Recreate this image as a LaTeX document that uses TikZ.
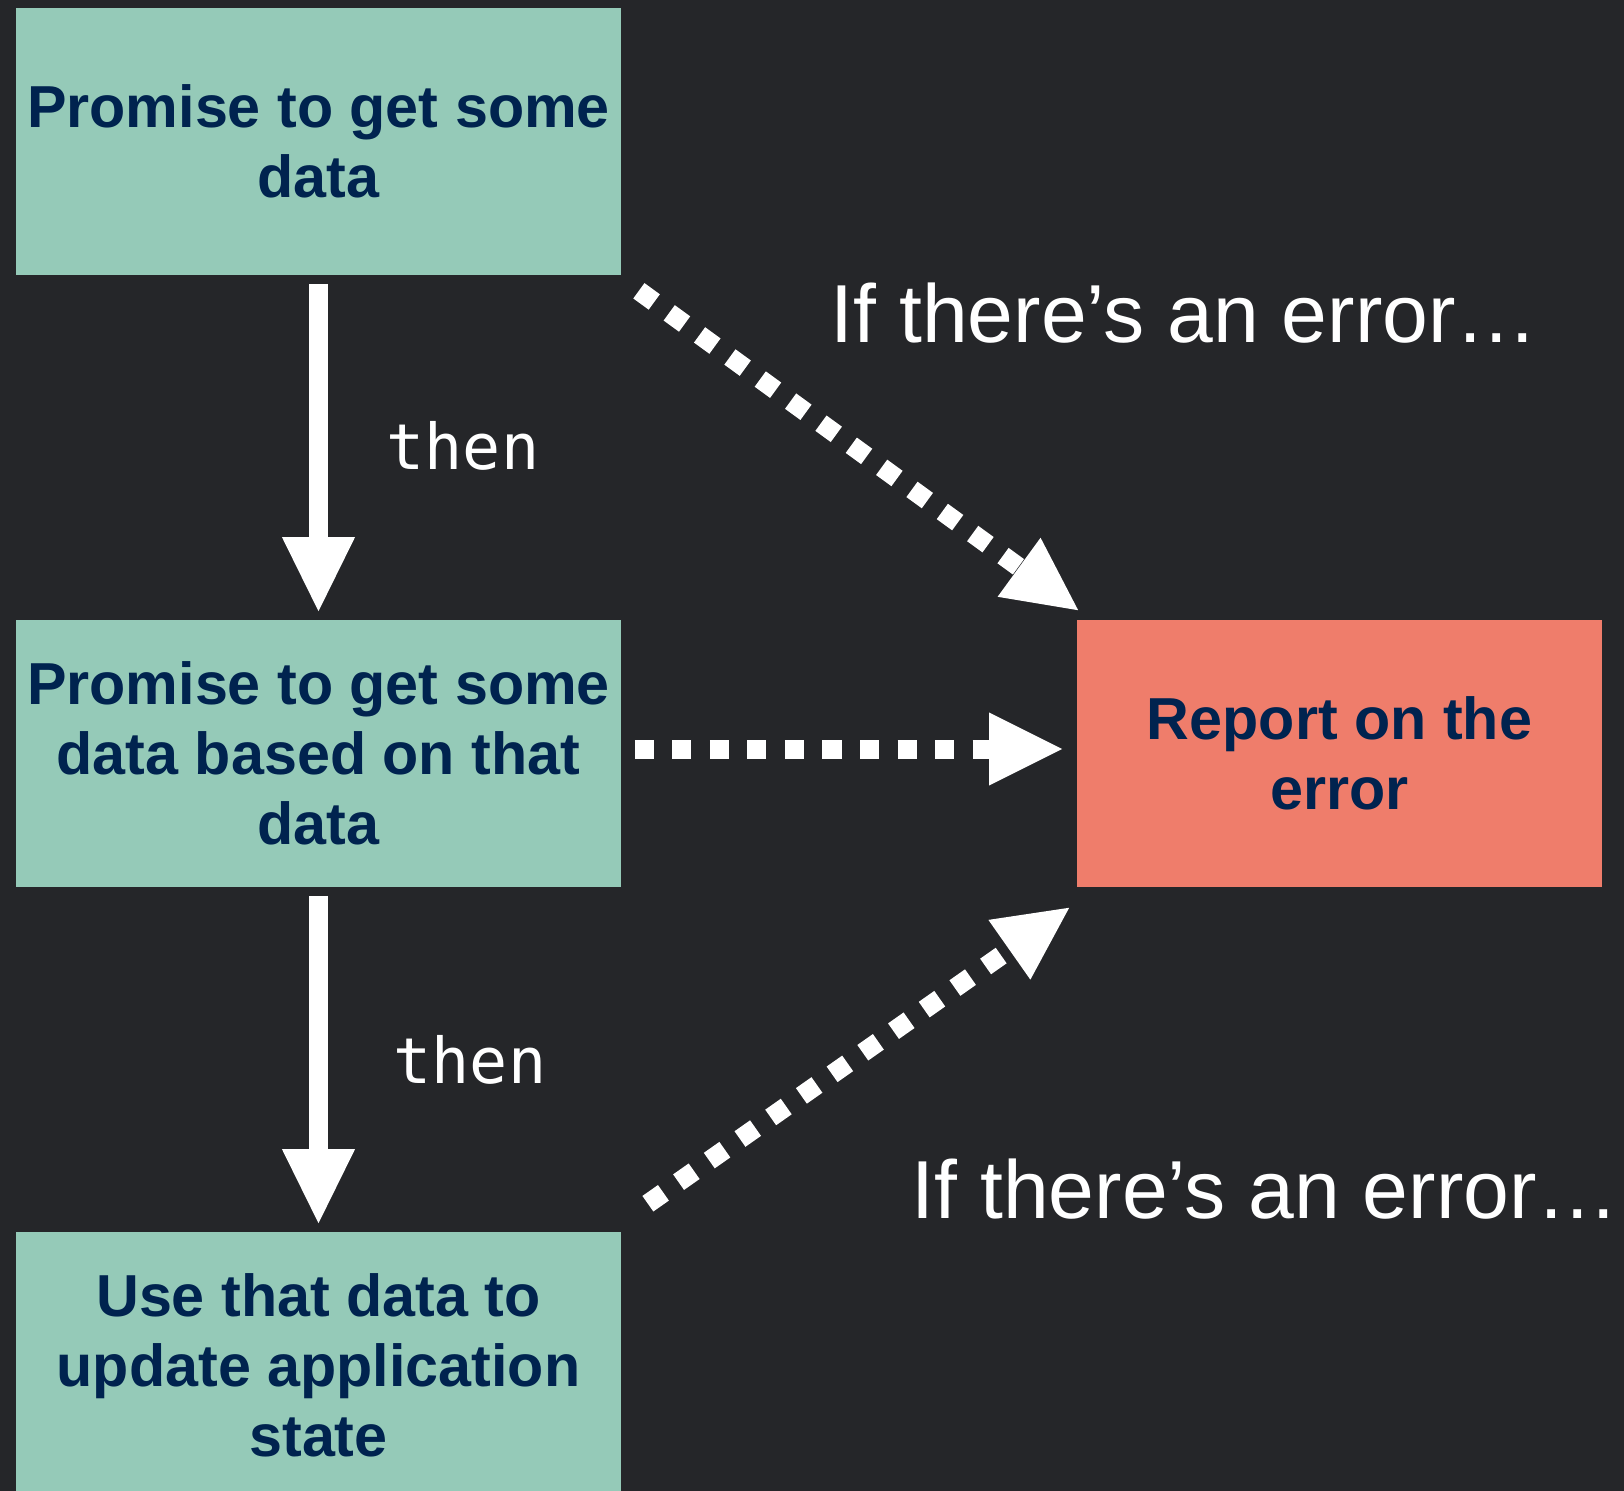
\documentclass[tikz,border=0pt]{standalone}
\usepackage{fontspec}
\setmainfont{Liberation Sans}
\setmonofont{DejaVu Sans Mono}
\usetikzlibrary{arrows.meta,calc}
\definecolor{bgc}{RGB}{37,38,41}
\definecolor{boxgreen}{RGB}{149,202,184}
\definecolor{salmon}{RGB}{239,125,107}
\definecolor{navy}{RGB}{0,35,79}
\begin{document}
\begin{tikzpicture}[x=0.01cm,y=-0.01cm,
  stepbox/.style={rectangle, fill=boxgreen, minimum width=6.05cm, minimum height=2.67cm,
    inner sep=0pt, align=center, text=navy, font=\bfseries\fontsize{16.85}{19.9}\selectfont},
  errbox/.style={stepbox, fill=salmon, minimum width=5.25cm},
  thenarrow/.style={draw=white, line width=0.19cm,
    -{Triangle[length=0.74cm,width=0.73cm,line width=0pt]},
    shorten <=0.08cm, shorten >=0.08cm},
  errarrow/.style={draw=white, line width=0.19cm, dash pattern=on 0.19cm off 0.185cm,
    -{Triangle[length=0.73cm,width=0.73cm,line width=0pt]}},
  thenlabel/.style={text=white, inner sep=0pt, anchor=base west,
    font=\ttfamily\fontsize{18}{21}\selectfont},
  errlabel/.style={text=white, inner sep=0pt, anchor=base west,
    font=\fontsize{23.4}{28}\selectfont}
]
\useasboundingbox (0,0) rectangle (1624,1491);
\clip (0,0) rectangle (1624,1491);
\fill[bgc] (0,0) rectangle (1624,1491);

\node[stepbox] (b1) at (318.5,141.5) {Promise to get some\\data};
\node[stepbox] (b2) at (318.5,753.5) {Promise to get some\\data based on that\\data};
\node[stepbox] (b3) at (318.5,1365.5) {Use that data to\\update application\\state};
\node[errbox] (rep) at (1339.5,753.5) {Report on the\\error};

\draw[thenarrow] (b1.south) -- (b2.north);
\draw[thenarrow] (b2.south) -- (b3.north);

\draw[errarrow] ([shift={(17,15)}]b1.south east) -- ([shift={(2,-9)}]rep.north west);
\draw[errarrow] ([shift={(13,-4.5)}]b2.east) -- ([shift={(-14,-4.5)}]rep.west);
\draw[errarrow] ([shift={(26,-27.5)}]b3.north east) -- ([shift={(-7,20)}]rep.south west);

\node[thenlabel] (t1) at (386,469) {then};
\node[thenlabel] (t2) at (393,1083) {then};
\node[errlabel] (e1) at (830,343) {If there’s an error…};
\node[errlabel] (e2) at (911,1218) {If there’s an error…};
\end{tikzpicture}
\end{document}
